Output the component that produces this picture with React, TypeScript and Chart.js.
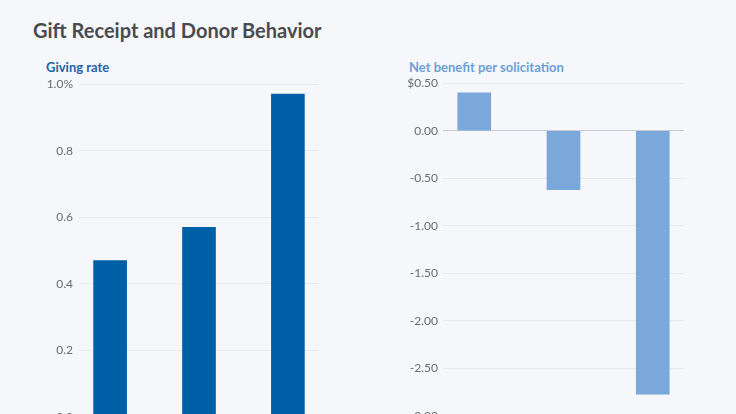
import React, { useEffect, useRef } from "react";
import { Chart, registerables } from "chart.js";

Chart.register(...registerables);

const categories = ["Group 1", "Group 2", "Group 3"];
const givingRate = [0.47, 0.57, 0.97];
const netBenefit = [0.4, -0.62, -2.77];
const givingTicks = [0, 0.2, 0.4, 0.6, 0.8, 1.0];
const benefitTicks = [-3, -2.5, -2, -1.5, -1, -0.5, 0, 0.5];

const FONT = "Lato, 'Open Sans', sans-serif";
const BG = "#f5f7fa";

type PanelProps = {
  values: number[];
  color: string;
  min: number;
  max: number;
  step: number;
  axisWidth: number;
  tickPad: number;
  padRight: number;
  padBottom: number;
  fmt: (v: number, isTop: boolean) => string;
};

function Panel(p: PanelProps) {
  const ref = useRef<HTMLCanvasElement | null>(null);
  useEffect(() => {
    if (!ref.current) return;
    const chart = new Chart(ref.current, {
      type: "bar",
      data: {
        labels: categories,
        datasets: [
          {
            data: p.values.map((v, i) => ({ x: i, y: v })),
            backgroundColor: p.color,
            barThickness: 33,
            borderWidth: 0,
          },
        ],
      },
      options: {
        animation: false,
        responsive: true,
        maintainAspectRatio: false,
        layout: { padding: { top: 3, bottom: p.padBottom, left: 0, right: p.padRight } },
        plugins: { legend: { display: false }, tooltip: { enabled: false } },
        scales: {
          x: {
            type: "linear",
            min: -0.35,
            max: 2.35,
            offset: false,
            display: false,
          },
          y: {
            min: p.min,
            max: p.max,
            ticks: {
              stepSize: p.step,
              padding: p.tickPad,
              color: "#6b6b6b",
              font: { family: FONT, size: 12 },
              callback: (v: any) => p.fmt(Number(v), Math.abs(Number(v) - p.max) < 1e-9),
            },
            border: { display: false },
            grid: {
              drawTicks: false,
              color: (ctx: any) =>
                ctx.tick && Math.abs(ctx.tick.value) < 1e-9 ? "#c9cdd3" : "#e7eaee",
              lineWidth: 1,
            },
            afterFit: (scale: any) => {
              scale.width = p.axisWidth;
            },
          },
        },
      },
    });
    return () => chart.destroy();
  }, []);
  return <canvas ref={ref} />;
}

export default function App() {
  return (
    <div
      style={{
        position: "fixed",
        inset: 0,
        background: BG,
        overflow: "hidden",
        fontFamily: FONT,
      }}
    >
      <div
        style={{
          position: "absolute",
          left: 33,
          top: 18,
          fontSize: 20,
          fontWeight: 700,
          color: "#4a4a4f",
          whiteSpace: "nowrap",
        }}
      >
        Gift Receipt and Donor Behavior
      </div>
      <div
        style={{
          position: "absolute",
          left: 46,
          top: 59,
          fontSize: 13,
          fontWeight: 700,
          color: "#1f62a5",
          whiteSpace: "nowrap",
        }}
      >
        Giving rate
      </div>
      <div
        style={{
          position: "absolute",
          left: 409,
          top: 59,
          fontSize: 13,
          fontWeight: 700,
          color: "#6d9fd7",
          whiteSpace: "nowrap",
        }}
      >
        Net benefit per solicitation
      </div>
      <div style={{ position: "absolute", left: 0, top: 71, width: 340, height: 365 }}>
        <Panel
          values={givingRate}
          color="#0060a7"
          min={givingTicks[0]}
          max={givingTicks[givingTicks.length - 1]}
          step={0.2}
          axisWidth={79}
          tickPad={6}
          padRight={21}
          padBottom={19}
          fmt={(v, top) => (top ? v.toFixed(1) + "%" : v.toFixed(1))}
        />
      </div>
      <div style={{ position: "absolute", left: 368, top: 71, width: 330, height: 365 }}>
        <Panel
          values={netBenefit}
          color="#7ba8db"
          min={benefitTicks[0]}
          max={benefitTicks[benefitTicks.length - 1]}
          step={0.5}
          axisWidth={75}
          tickPad={5}
          padRight={14}
          padBottom={20}
          fmt={(v, top) => (top ? "$" + v.toFixed(2) : v.toFixed(2))}
        />
      </div>
    </div>
  );
}
